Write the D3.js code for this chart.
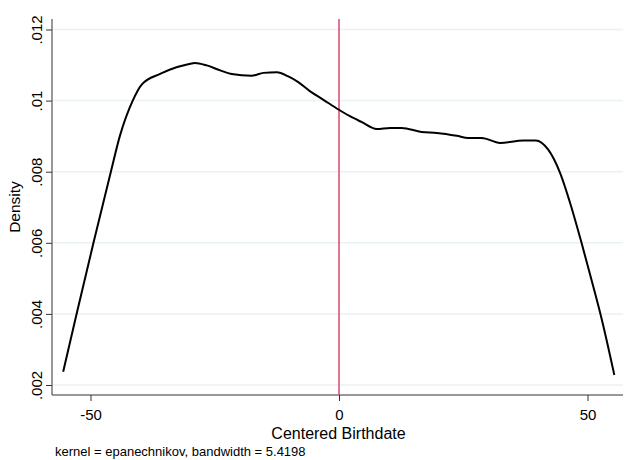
<!DOCTYPE html>
<html>
<head>
<meta charset="utf-8">
<script src="https://cdn.jsdelivr.net/npm/d3@7"></script>
<style>
  html, body { margin: 0; padding: 0; background: #fff; }
  svg { display: block; font-family: "Liberation Sans", Arial, sans-serif; }
</style>
</head>
<body>
<svg id="chart" width="632" height="460"></svg>
<script>
// Kernel density estimate of centered birthdate
const birthdate = [-55.5, -52.8, -49.4, -45.9, -44.1, -41.5, -39.7, -36.0, -32.7, -30.3,
  -29.0, -26.6, -23.9, -21.6, -17.6, -15.2, -12.5, -10.2, -8.2, -5.8,
  -3.2, -0.1, 2.2, 4.5, 7.6, 10.3, 12.6, 16.6, 19.7, 23.7,
  26.0, 28.7, 32.4, 37.1, 39.6, 42.1, 44.5, 46.5, 48.8, 50.8, 52.9, 55.4];
const density = [0.00237, 0.0040, 0.0060, 0.0080, 0.0090, 0.0100, 0.01045, 0.01075, 0.01094, 0.01102,
  0.01106, 0.01099, 0.01085, 0.01075, 0.01070, 0.01078, 0.01080, 0.01068, 0.01052, 0.01026,
  0.01003, 0.00975, 0.00956, 0.00940, 0.00920, 0.00923, 0.00923, 0.00912, 0.00909, 0.00901,
  0.00895, 0.00895, 0.00881, 0.00888, 0.00888, 0.00862, 0.00796, 0.00712, 0.00600, 0.00496, 0.00383, 0.00228];

const xTicks = [-50, 0, 50];
const xTickLabels = ["-50", "0", "50"];
const yTicks = [0.002, 0.004, 0.006, 0.008, 0.010, 0.012];
const yTickLabels = [".002", ".004", ".006", ".008", ".01", ".012"];
const cutoff = [0];

const xTitle = "Centered Birthdate";
const yTitle = "Density";
const note = "kernel = epanechnikov, bandwidth = 5.4198";

const svg = d3.select("#chart");

const plot = { left: 52, right: 623, top: 19, bottom: 395 };

const x = d3.scaleLinear().domain([-50, 50]).range([90.5, 587.5]);
const y = d3.scaleLinear().domain([0.002, 0.012]).range([385, 29.5]);

// horizontal grid lines
svg.append("g")
  .selectAll("line")
  .data(yTicks)
  .join("line")
  .attr("x1", plot.left + 1)
  .attr("x2", plot.right)
  .attr("y1", d => y(d))
  .attr("y2", d => y(d))
  .attr("stroke", "#eaf2f3")
  .attr("stroke-width", 1.5);

// y axis
const yAxis = d3.axisLeft(y)
  .tickValues(yTicks)
  .tickFormat((d, i) => yTickLabels[i])
  .tickSize(6)
  .tickSizeOuter(0);
const gy = svg.append("g")
  .attr("transform", `translate(${plot.left},0)`)
  .call(yAxis);
gy.select(".domain").remove();
gy.append("line")
  .attr("y1", plot.top).attr("y2", plot.bottom)
  .attr("stroke", "#333").attr("stroke-width", 1);
gy.selectAll(".tick line").attr("stroke", "#333");
gy.selectAll(".tick text")
  .attr("fill", "#000")
  .attr("font-size", 15)
  .attr("font-family", "Liberation Sans, Arial, sans-serif")
  .attr("transform", "rotate(-90)")
  .attr("x", 0)
  .attr("y", -10)
  .attr("text-anchor", "middle")
  .attr("dy", 0);

// x axis
const xAxis = d3.axisBottom(x)
  .tickValues(xTicks)
  .tickFormat((d, i) => xTickLabels[i])
  .tickSize(6)
  .tickSizeOuter(0);
const gx = svg.append("g")
  .attr("transform", `translate(0,${plot.bottom})`)
  .call(xAxis);
gx.select(".domain").remove();
gx.append("line")
  .attr("x1", plot.left).attr("x2", plot.right)
  .attr("stroke", "#333").attr("stroke-width", 1);
gx.selectAll(".tick line").attr("stroke", "#333");
gx.selectAll(".tick text")
  .attr("fill", "#000")
  .attr("font-size", 15)
  .attr("font-family", "Liberation Sans, Arial, sans-serif")
  .attr("y", 25)
  .attr("dy", 0);

// reference line at the cutoff
svg.append("g")
  .selectAll("line")
  .data(cutoff)
  .join("line")
  .attr("x1", d => x(d)).attr("x2", d => x(d))
  .attr("y1", plot.top).attr("y2", plot.bottom)
  .attr("stroke", "#d9486e")
  .attr("stroke-width", 1.5);

// density curve
const points = birthdate.map((b, i) => [b, density[i]]);
svg.append("path")
  .datum(points)
  .attr("fill", "none")
  .attr("stroke", "#000")
  .attr("stroke-width", 2)
  .attr("stroke-linejoin", "round")
  .attr("d", d3.line()
    .x(d => x(d[0]))
    .y(d => y(d[1]))
    .curve(d3.curveMonotoneX));

// titles
svg.append("text")
  .attr("x", (plot.left + plot.right) / 2 + 1)
  .attr("y", 439)
  .attr("text-anchor", "middle")
  .attr("font-size", 16)
  .text(xTitle);

svg.append("text")
  .attr("transform", `translate(20,${(plot.top + plot.bottom) / 2}) rotate(-90)`)
  .attr("text-anchor", "middle")
  .attr("font-size", 15.5)
  .text(yTitle);

svg.append("text")
  .attr("x", 55)
  .attr("y", 456)
  .attr("font-size", 13)
  .text(note);
</script>
</body>
</html>
